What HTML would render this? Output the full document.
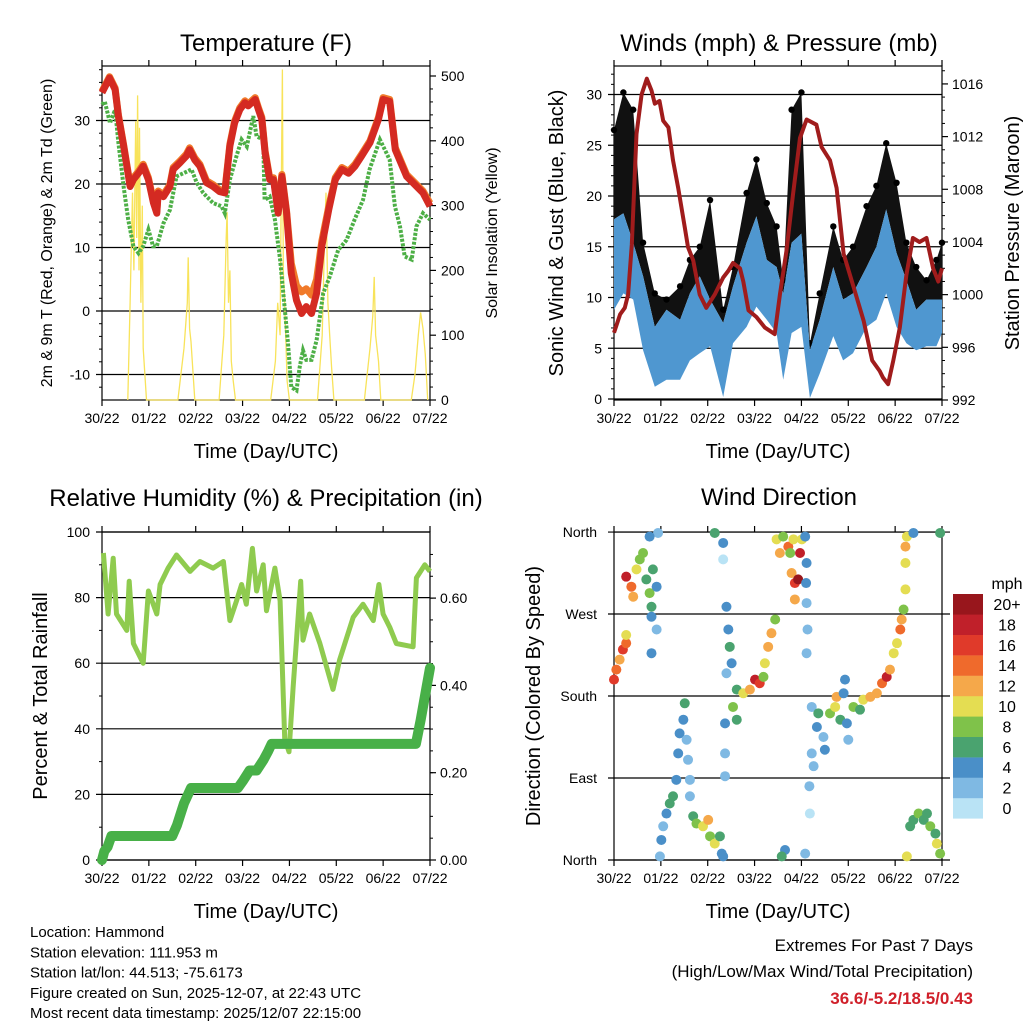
<!DOCTYPE html>
<html><head><meta charset="utf-8"><style>
body{margin:0;background:#fff}
svg{display:block;font-family:"Liberation Sans",sans-serif}
</style></head><body>
<svg id="s" width="1024" height="1024" viewBox="0 0 1024 1024"></svg>
<script>
// ---- data ----
const dayLabels=["30/22","01/22","02/22","03/22","04/22","05/22","06/22","07/22"];
const tDays=[0,0.16,0.28,0.35,0.46,0.6,0.67,0.78,0.88,0.99,1.1,1.17,1.2,1.31,1.45,1.52,1.66,1.8,1.87,1.98,2.09,2.23,2.37,2.51,2.62,2.73,2.83,2.94,3.05,3.12,3.27,3.34,3.41,3.48,3.58,3.66,3.76,3.84,3.94,4.04,4.15,4.26,4.36,4.47,4.58,4.69,4.84,4.98,5.12,5.26,5.4,5.54,5.72,5.9,6.0,6.14,6.26,6.5,6.85,7.0];
const temp2m=[34.4,36.7,34.9,30.7,26,19.6,20.7,21.7,22.8,20.7,17,15.4,18.6,18,19.6,22.3,23.3,24.4,25.4,23.8,22.8,20.2,19.6,18.8,18.6,26,29.6,31.7,32.8,32.3,33.3,31.7,30.2,24.9,20.7,20.7,15.4,21.2,15.4,5.9,1.7,-0.4,0.7,-0.4,2.8,10.2,16,20.7,22.3,21.7,22.8,24.4,26.5,30.2,33.3,33,25.4,21.2,18.6,16.5];
const temp9m=[34.6,36.9,35.1,30.9,26.2,19.9,21,22,23.1,21,17.3,15.7,18.9,18.3,19.9,22.6,23.6,24.7,25.7,24.1,23.1,20.5,19.9,19.1,18.9,26.3,29.9,32,33.1,32.6,33.6,32,30.5,25.2,21,21,15.7,21.5,15.7,7.5,4,3,3.5,2.5,5,11,16.5,21,22.6,22,23.1,24.7,26.8,30.5,33.6,33.3,25.7,21.5,18.9,17];
const tdDays=[0,0.06,0.17,0.28,0.35,0.46,0.56,0.67,0.78,0.88,0.99,1.09,1.17,1.31,1.45,1.59,1.74,1.91,2.02,2.16,2.37,2.55,2.62,2.73,2.87,2.98,3.09,3.23,3.3,3.44,3.47,3.58,3.69,3.8,3.87,3.97,4.04,4.15,4.22,4.29,4.36,4.47,4.58,4.72,4.86,5.04,5.22,5.39,5.57,5.71,5.93,6.07,6.14,6.25,6.36,6.46,6.61,6.71,6.85,7.0];
const dewpt=[32.5,33,29.6,31.7,26.5,19.6,14.4,10.2,9.1,10.2,12.8,10.2,10.2,13.8,15.9,21.2,21.7,22.3,20.2,18.6,17,16.5,15.4,20.7,24.4,27,25.9,30.7,27.5,27,17.5,18,14.4,8.1,2.8,-5.1,-12,-12.5,-8.8,-6.2,-7.7,-7.7,-4.6,2.8,5.4,9.6,11.2,14.4,17.5,22.3,27,24.9,23.8,16.5,13.3,8.6,8.1,13.3,15.4,14.4];
const solDays=[0.55,0.6,0.65,0.68,0.72,0.74,0.76,0.79,0.8,0.83,0.86,0.88,0.95,1.62,1.75,1.82,1.84,1.87,1.9,1.98,2.5,2.6,2.65,2.67,2.7,2.73,2.76,2.8,2.85,3.6,3.7,3.75,3.8,3.82,3.85,3.87,3.9,3.95,4.0,4.6,4.7,4.75,4.78,4.82,4.86,4.9,4.95,5.6,5.72,5.78,5.81,5.84,5.9,5.95,6.6,6.68,6.75,6.8,6.85,6.9,6.95];
const solar=[0,150,320,200,430,250,470,200,420,150,300,80,0,0,80,150,220,110,90,0,0,100,250,290,150,200,60,30,0,0,60,150,100,280,510,200,150,30,0,0,100,250,320,150,100,50,0,0,80,130,190,100,60,0,0,40,100,135,110,70,0];
const wDays=[0,0.2,0.41,0.62,0.87,1.12,1.41,1.62,1.83,2.05,2.33,2.54,2.83,3.04,3.26,3.47,3.61,3.79,4.0,4.18,4.39,4.68,4.89,5.1,5.39,5.6,5.81,6.03,6.24,6.45,6.67,6.88,7.0];
const windHi=[17.7,18.3,15.4,12.1,7.1,8.8,7.8,10.4,12.1,9.8,7.5,11.1,15.4,18,13.7,13,10.4,15.4,16.3,4.8,7.8,13,9.8,10.4,13,15,18.7,14.4,11.7,8.8,9.8,9.8,9.8];
const windLo=[8.8,10.4,9.8,4.8,1.2,1.9,1.9,3.8,4.5,5.2,0.2,5.5,7.1,9.1,7.8,6.5,1.9,6.5,7.1,0.1,2.5,6.2,3.8,4.5,7.1,7.8,10.4,7.1,5.5,4.8,5.2,5.2,6.5];
const gust=[26.5,30.2,28.5,15.4,10.4,9.8,11.1,13.7,15,19.6,8.8,13,20.3,23.6,19.3,17,11.7,28.5,30.2,5.5,10.4,17,13.7,15,19,21,25.2,21.3,15.4,13,11.7,13.7,15.4];
const pDays=[0,0.13,0.23,0.3,0.38,0.48,0.59,0.7,0.8,0.87,0.97,1.05,1.16,1.26,1.37,1.51,1.58,1.69,1.83,1.97,2.15,2.33,2.44,2.54,2.69,2.76,2.87,3.04,3.22,3.43,3.54,3.68,3.82,3.97,4.11,4.32,4.43,4.61,4.75,4.9,5.12,5.33,5.51,5.67,5.74,5.85,5.96,6.1,6.24,6.38,6.52,6.67,6.81,6.92,7.0];
const pressure=[997.1,998.5,999,1000,1003.8,1012.2,1015.2,1016.4,1015.5,1014.5,1014.7,1013.2,1012.7,1010.2,1008.1,1005.1,1003.6,1002.6,1000,999,1000,1001.3,1001.8,1002.4,1002,1001,998.8,998.3,997.5,997,1000,1003.3,1007.6,1011.9,1013.3,1012.9,1011.2,1010.2,1008.1,1003.1,1000.5,998,995,994.2,993.7,993.2,995,997.5,1001.5,1004.3,1004,1004.3,1002,1001,1002];
const rhDays=[0.03,0.13,0.24,0.31,0.53,0.58,0.67,0.88,0.99,1.17,1.24,1.41,1.59,1.88,2.09,2.37,2.59,2.73,2.87,2.98,3.08,3.21,3.3,3.44,3.51,3.69,3.8,3.9,3.99,4.08,4.24,4.29,4.43,4.65,4.93,5.07,5.36,5.57,5.79,5.91,6.0,6.14,6.28,6.64,6.71,6.89,7.0];
const rh=[93.6,75,92,75,70,85,66,60,82,75,84,89,93,88,91,89,91,73,79,84,78,95,82,90,76,89,79,37,33,53,85,67,75,66,52,61,74,78,73,84,75,71,66,65,86,90,88];
const prDays=[0,0.05,0.12,0.2,1.5,1.6,1.75,1.9,2.9,3.0,3.15,3.3,3.45,3.55,3.62,6.7,6.8,6.9,7.0];
const precip=[0,0.02,0.03,0.055,0.055,0.08,0.13,0.165,0.165,0.18,0.205,0.205,0.23,0.25,0.266,0.266,0.32,0.38,0.44];
const dirDays=[0,0.05,0.12,0.19,0.26,0.26,0.26,0.37,0.41,0.48,0.55,0.62,0.69,0.76,0.83,0.91,0.8,0.8,0.91,0.8,0.94,0.76,0.98,1.01,1.05,1.12,1.19,1.26,1.33,1.37,1.4,1.48,1.51,1.55,1.58,1.62,1.62,1.69,1.76,1.9,2.01,2.05,2.15,2.26,2.3,2.33,2.15,2.33,2.33,2.4,2.44,2.47,2.51,2.4,2.37,2.37,2.37,2.54,2.62,2.62,2.76,2.9,3.01,3.11,3.19,3.22,3.29,3.36,3.44,3.47,3.54,3.61,3.72,3.76,3.83,3.79,3.86,3.93,3.86,3.97,4.01,4.08,4.11,4.1,4.11,4.13,4.11,3.65,3.58,4.08,4.18,4.17,4.22,4.22,4.26,4.33,4.36,4.47,4.5,4.61,4.72,4.75,4.83,4.9,4.93,4.97,5.0,5.11,5.25,5.32,5.47,5.61,5.72,5.82,5.89,5.97,6.04,6.11,6.14,6.18,6.22,6.22,6.22,6.25,6.39,6.25,6.32,6.39,6.5,6.61,6.68,6.75,6.86,6.89,6.96,6.96];
const dirDeg=[198,209,220,231,238,247,311,300,289,319,330,337,308,293,319,300,278,267,253,227,359,355,4,22,37,51,62,70,88,117,139,154,172,132,110,88,70,48,40,37,44,26,18,26,7,4,359,348,330,278,253,234,216,205,150,117,92,168,154,187,183,187,198,194,201,216,234,249,264,352,337,355,344,337,352,315,304,308,286,337,352,355,326,304,282,253,227,11,4,7,51,81,168,117,103,146,161,135,121,161,168,179,154,183,198,150,132,168,165,176,179,183,194,201,209,227,238,253,264,275,297,326,344,355,359,4,37,44,51,44,51,37,29,18,7,359];
const dirSpd=[16,14,12,16,14,10,18,14,12,10,8,8,6,8,6,4,6,4,2,4,2,4,2,4,2,4,6,6,4,4,4,4,6,2,2,2,2,6,8,10,12,8,10,6,4,4,6,4,0,4,4,6,4,2,4,2,2,8,6,6,10,12,18,16,8,10,12,12,8,10,12,8,14,8,10,12,16,20,12,18,10,4,4,4,2,2,2,4,6,2,0,2,2,2,2,4,6,2,4,8,10,12,6,4,4,4,2,8,6,10,12,12,14,18,12,10,10,14,12,8,10,10,12,10,4,10,6,6,8,6,6,8,6,10,8,6];
const speedBins=["0","2","4","6","8","10","12","14","16","18","20+"];
const binColors=["#b9e3f5","#7fb9e3","#4a8fc8","#4aa36f","#7fc24a","#e4dd52","#f5a84a","#ef6a2c","#e03a2a","#c0202a","#98161c"];

// ---- helpers ----
const S=document.getElementById('s');const NS="http://www.w3.org/2000/svg";
function mk(tag,at,parent){const e=document.createElementNS(NS,tag);for(const k in at)e.setAttribute(k,at[k]);(parent||S).appendChild(e);return e;}
function txt(str,x,y,size,anchor,extra){const e=mk('text',Object.assign({x:x,y:y,'font-size':size,'text-anchor':anchor||'middle',fill:'#000'},extra||{}));e.textContent=str;return e;}
function line(x1,y1,x2,y2,w,c){return mk('line',{x1:x1,y1:y1,x2:x2,y2:y2,stroke:c||'#000','stroke-width':w||1});}
function pts(xs,ys,fx,fy){return xs.map((d,i)=>fx(d).toFixed(1)+','+fy(ys[i]).toFixed(1)).join(' ');}

function frame(x0,x1,y0,y1,name){
  const r=mk('rect',{x:x0,y:y0,width:x1-x0,height:y1-y0,fill:'none',stroke:'#000','stroke-width':1.2});
  
  const fx=d=>x0+(x1-x0)*d/7;
  for(let i=0;i<=7;i++){const x=fx(i);line(x,y1,x,y1+6,1.2);line(x,y0,x,y0-6,1.2);
    const t=txt(dayLabels[i],x,y1+23,14);}
  const at=txt('Time (Day/UTC)',(x0+x1)/2,y1+58,20);
  return fx;
}
function ytitle(str,x,y,size,name){const t=txt(str,x,y,size,'middle',{transform:`rotate(-90 ${x} ${y})`});}

// ===== Panel 1: Temperature =====
{const x0=102,x1=430,y0=66,y1=400;
 const yT=v=>311-6.35*v, yS=v=>400-0.648*v;
 const fx=frame(x0,x1,y0,y1,'temperature');
 for(let v=-10;v<=30;v+=10){line(x0-6,yT(v),x1,yT(v),1.2);const t=txt(String(v),x0-12,yT(v)+5,14,'end');}
 for(let v=-12;v<=38;v+=2){if(v%10)line(x0-3,yT(v),x0,yT(v),1);}
 for(let v=0;v<=500;v+=100){line(x1,yS(v),x1+6,yS(v),1.2);const t=txt(String(v),x1+11,yS(v)+5,14,'start');}
 for(let v=20;v<=500;v+=20){if(v%100)line(x1,yS(v),x1+3,yS(v),1);}
 const sol=mk('polyline',{points:pts(solDays,solar,fx,yS),fill:'none',stroke:'#f8e35a','stroke-width':1.3});
 
 const td=mk('polyline',{points:pts(tdDays,dewpt,fx,yT),fill:'none',stroke:'#4daf46','stroke-width':4,'stroke-dasharray':'3 1.5'});
 
 const t9=mk('polyline',{points:pts(tDays,temp9m,fx,yT),fill:'none',stroke:'#f07a2a','stroke-width':7,'stroke-linejoin':'round'});
 
 const t2=mk('polyline',{points:pts(tDays,temp2m,fx,yT),fill:'none',stroke:'#d42a22','stroke-width':7,'stroke-linejoin':'round'});
 
 const tt=txt('Temperature (F)',266,51,24);
 ytitle('2m & 9m T (Red, Orange) & 2m Td (Green)',52,233,16,'temp-y-axis-title');
 ytitle('Solar Insolation (Yellow)',497,233,16,'solar-y-axis-title');
}
// ===== Panel 2: Winds =====
{const x0=614,x1=942,y0=66,y1=400;
 const yW=v=>399-10.15*v, yP=p=>400-13.17*(p-992);
 const fx=frame(x0,x1,y0,y1,'winds');
 for(let v=0;v<=30;v+=5){line(x0-6,yW(v),x1,yW(v),1.2);const t=txt(String(v),x0-12,yW(v)+5,14,'end');}
 for(let v=1;v<=32;v++){if(v%5)line(x0-3,yW(v),x0,yW(v),1);}
 for(let p=992;p<=1016;p+=4){line(x1,yP(p),x1+6,yP(p),1.2);const t=txt(String(p),x1+10,yP(p)+5,14,'start');}
 for(let p=993;p<=1017;p++){if(p%4)line(x1,yP(p),x1+3,yP(p),1);}
 const gb=mk('polygon',{points:pts(wDays,gust,fx,yW)+' '+pts(wDays.slice().reverse(),windHi.slice().reverse(),fx,yW),fill:'#111'});
 
 wDays.forEach((d,i)=>{const c=mk('circle',{cx:fx(d),cy:yW(gust[i]),r:3.2,fill:'#000'});
   
   });
 const wb=mk('polygon',{points:pts(wDays,windHi,fx,yW)+' '+pts(wDays.slice().reverse(),windLo.slice().reverse(),fx,yW),fill:'#4f97d0'});
 
 const pr=mk('polyline',{points:pts(pDays,pressure,fx,yP),fill:'none',stroke:'#a01c1c','stroke-width':4,'stroke-linejoin':'round'});
 
 const tt=txt('Winds (mph) & Pressure (mb)',779,51,24);
 ytitle('Sonic Wind & Gust (Blue, Black)',563,233,20,'wind-y-axis-title');
 ytitle('Station Pressure (Maroon)',1019,233,20,'pressure-y-axis-title');
}
// ===== Panel 3: RH & Precip =====
{const x0=102,x1=430,y0=532,y1=860;
 const yR=v=>860-3.28*v, yPr=v=>860-436.5*v;
 const fx=frame(x0,x1,y0,y1,'humidity');
 for(let v=0;v<=100;v+=20){line(x0-6,yR(v),x1,yR(v),1.2);const t=txt(String(v),x0-12,yR(v)+5,14,'end');}
 for(let v=10;v<=90;v+=20)line(x0-3,yR(v),x0,yR(v),1);
 for(let v=0;v<=0.6001;v+=0.2){line(x1,yPr(v),x1+6,yPr(v),1.2);const t=txt(v.toFixed(2),x1+10,yPr(v)+5,14,'start');}
 for(let v=0.05;v<=0.75;v+=0.05){line(x1,yPr(v),x1+3,yPr(v),1);}
 const rl=mk('polyline',{points:pts(rhDays,rh,fx,yR),fill:'none',stroke:'#8fcb4f','stroke-width':5,'stroke-linejoin':'round'});
 
 const pl=mk('polyline',{points:pts(prDays,precip,fx,yPr),fill:'none',stroke:'#48b048','stroke-width':10,'stroke-linejoin':'round','stroke-linecap':'round'});
 
 const tt=txt('Relative Humidity (%) & Precipitation (in)',266,506,24);
 ytitle('Percent & Total Rainfall',47,696,20,'humidity-y-axis-title');
}
// ===== Panel 4: Wind Direction =====
{const x0=614,x1=942,y0=532,y1=860;
 const yD=d=>860-0.911*d;
 const fx=frame(x0,x1,y0,y1,'direction');
 const dl=["North","East","South","West","North"];
 for(let i=0;i<5;i++){const y=yD(i*90);line(x0-6,y,950,y,1.2);const t=txt(dl[i],597,y+5,14,'end');}
 dirDays.forEach((d,i)=>{const b=Math.min(10,Math.floor(dirSpd[i]/2));
   const c=mk('circle',{cx:fx(d),cy:yD(dirDeg[i]),r:5,fill:binColors[b]});
   
   });
 const tt=txt('Wind Direction',779,505,24);
 ytitle('Direction (Colored By Speed)',540,696,20,'direction-y-axis-title');
 const m=txt('mph',1007,589,16);
 for(let i=0;i<11;i++){const y=594+(10-i)*20.4;
   const r=mk('rect',{x:953,y:y,width:30,height:20.6,fill:binColors[i]});
   
   
   const t=txt(speedBins[i],1007,y+16,16);}
}
// ===== footer =====
["Location: Hammond","Station elevation: 111.953 m","Station lat/lon: 44.513; -75.6173","Figure created on Sun, 2025-12-07, at 22:43 UTC","Most recent data timestamp: 2025/12/07 22:15:00"].forEach((s,i)=>{
  const t=txt(s,30,937+i*20.3,15,'start');});
{const a=txt('Extremes For Past 7 Days',973,951,17,'end');
 const b=txt('(High/Low/Max Wind/Total Precipitation)',973,977,17,'end');
 const c=txt('36.6/-5.2/18.5/0.43',973,1004,17,'end',{fill:'#d0202a','font-weight':'bold'});}
</script>
</body></html>
